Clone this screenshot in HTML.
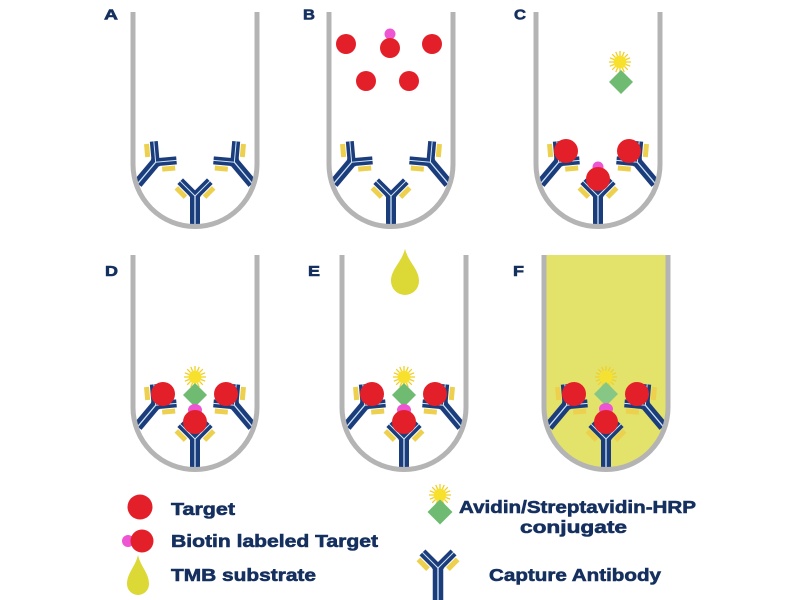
<!DOCTYPE html>
<html><head><meta charset="utf-8"><style>
html,body{margin:0;padding:0;background:#fff;}
svg{display:block;}
text{font-family:"Liberation Sans",Arial,sans-serif;font-weight:bold;fill:#15305f;stroke:#15305f;stroke-width:0.6;}
</style></head><body>
<svg width="800" height="600" viewBox="0 0 800 600" xmlns="http://www.w3.org/2000/svg">
<defs>
  <g id="ab">
    <line x1="-9.5" y1="0.1" x2="-18.7" y2="-9.1" stroke="#ecd04e" stroke-width="5"/>
    <line x1="9.5" y1="0.1" x2="18.7" y2="-9.1" stroke="#ecd04e" stroke-width="5"/>
    <line x1="3" y1="2" x2="-14.8" y2="-15.8" stroke="#1c3d7c" stroke-width="8"/>
    <line x1="-3" y1="2" x2="14.8" y2="-15.8" stroke="#1c3d7c" stroke-width="8"/>
    <line x1="0" y1="-1" x2="0" y2="27" stroke="#1c3d7c" stroke-width="10"/>
    <path d="M-14.8,-15.8 L0,-1 L14.8,-15.8" fill="none" stroke="#cfe6f7" stroke-width="1"/>
    <path d="M0,-1 L0,27" fill="none" stroke="#cfe6f7" stroke-width="1.3"/>
  </g>
  <g id="abc">
    <line x1="-9.5" y1="0.1" x2="-18.7" y2="-9.1" stroke="#ecd04e" stroke-width="5"/>
    <line x1="9.5" y1="0.1" x2="18.7" y2="-9.1" stroke="#ecd04e" stroke-width="5"/>
    <line x1="3" y1="2" x2="-14.8" y2="-15.8" stroke="#1c3d7c" stroke-width="8"/>
    <line x1="-3" y1="2" x2="14.8" y2="-15.8" stroke="#1c3d7c" stroke-width="8"/>
    <line x1="0" y1="-1" x2="0" y2="31" stroke="#1c3d7c" stroke-width="10"/>
    <path d="M-14.8,-15.8 L0,-1 L14.8,-15.8" fill="none" stroke="#cfe6f7" stroke-width="1"/>
    <path d="M0,-1 L0,31" fill="none" stroke="#cfe6f7" stroke-width="1.3"/>
  </g>
  <g id="sun">
    <path d="M6.5,0L11,0M6,2.49L10.16,4.21M4.6,4.6L7.78,7.78M2.49,6L4.21,10.16M0,6.5L0,11M-2.49,6L-4.21,10.16M-4.6,4.6L-7.78,7.78M-6,2.49L-10.16,4.21M-6.5,0L-11,0M-6,-2.49L-10.16,-4.21M-4.6,-4.6L-7.78,-7.78M-2.49,-6L-4.21,-10.16M0,-6.5L0,-11M2.49,-6L4.21,-10.16M4.6,-4.6L7.78,-7.78M6,-2.49L10.16,-4.21" stroke="#f0cf22" stroke-width="1.3"/>
    <circle r="6.5" fill="#f8e12c"/>
  </g>
  <polygon id="dia" points="0,-12 12,0 0,12 -12,0" fill="#70bb72"/>
</defs>

<!-- F yellow fill -->
<path d="M544,255 V407.5 A62 62 0 0 0 668,407.5 V255 Z" fill="#e3e36b"/>

<!-- Tube A -->
<use href="#ab" transform="translate(155,163) rotate(40)"/>
<use href="#ab" transform="translate(235,163) rotate(-40)"/>
<use href="#abc" transform="translate(195,197)"/>

<!-- Tube B -->
<use href="#ab" transform="translate(351,163) rotate(40)"/>
<use href="#ab" transform="translate(431,163) rotate(-40)"/>
<use href="#abc" transform="translate(391,197)"/>
<circle cx="390" cy="34" r="5.5" fill="#ee55d2"/>
<circle cx="346" cy="44" r="10" fill="#e3202a"/>
<circle cx="390" cy="48" r="10" fill="#e3202a"/>
<circle cx="432" cy="44" r="10" fill="#e3202a"/>
<circle cx="366" cy="81" r="10" fill="#e3202a"/>
<circle cx="409" cy="81" r="10" fill="#e3202a"/>

<!-- Tube C -->
<use href="#ab" transform="translate(558,163) rotate(40)"/>
<use href="#ab" transform="translate(638,163) rotate(-40)"/>
<use href="#abc" transform="translate(598,197)"/>
<use href="#sun" transform="translate(620,62)"/>
<use href="#dia" transform="translate(621,82)"/>
<circle cx="566" cy="151" r="12" fill="#e3202a"/>
<circle cx="629" cy="151" r="12" fill="#e3202a"/>
<circle cx="598" cy="167" r="5.5" fill="#ee55d2"/>
<circle cx="598" cy="179" r="12" fill="#e3202a"/>

<!-- Tube D -->
<use href="#ab" transform="translate(155,406) rotate(40)"/>
<use href="#ab" transform="translate(235,406) rotate(-40)"/>
<use href="#abc" transform="translate(195,440)"/>
<use href="#sun" transform="translate(195,377)"/>
<use href="#dia" transform="translate(195,395)"/>
<ellipse cx="195" cy="410" rx="7" ry="6" fill="#ee55d2"/>
<circle cx="195" cy="422" r="12" fill="#e3202a"/>
<circle cx="163" cy="394" r="12" fill="#e3202a"/>
<circle cx="226" cy="394" r="12" fill="#e3202a"/>

<!-- Tube E -->
<path d="M405,249 C408.5,262.5 419,269 419,281 A14,14 0 0 1 391,281 C391,269 401.5,262.5 405,249 Z" fill="#dcd836"/>
<use href="#ab" transform="translate(364,406) rotate(40)"/>
<use href="#ab" transform="translate(444,406) rotate(-40)"/>
<use href="#abc" transform="translate(404,440)"/>
<use href="#sun" transform="translate(404,377)"/>
<use href="#dia" transform="translate(404,395)"/>
<ellipse cx="404" cy="410" rx="7" ry="6" fill="#ee55d2"/>
<circle cx="404" cy="422" r="12" fill="#e3202a"/>
<circle cx="372" cy="394" r="12" fill="#e3202a"/>
<circle cx="435" cy="394" r="12" fill="#e3202a"/>

<!-- Tube F -->
<use href="#ab" transform="translate(566,406) rotate(40)"/>
<use href="#ab" transform="translate(646,406) rotate(-40)"/>
<use href="#abc" transform="translate(606,440)"/>
<g opacity="0.9">
<use href="#sun" transform="translate(606,377)"/>
<polygon points="606,382 618,394 606,406 594,394" fill="#7cc48a"/>
</g>
<ellipse cx="606" cy="409" rx="7" ry="6" fill="#ee55d2"/>
<circle cx="606" cy="422" r="12" fill="#e3202a"/>
<circle cx="574" cy="394" r="12" fill="#e3202a"/>
<circle cx="637" cy="394" r="12" fill="#e3202a"/>

<!-- Tube walls -->
<g fill="none" stroke="#b4b4b4" stroke-width="5">
<path d="M133,12 V164.5 A62 62 0 0 0 257,164.5 V12"/>
<path d="M329,12 V164.5 A62 62 0 0 0 453,164.5 V12"/>
<path d="M536,12 V164.5 A62 62 0 0 0 660,164.5 V12"/>
<path d="M133,255 V407.5 A62 62 0 0 0 257,407.5 V255"/>
<path d="M342,255 V407.5 A62 62 0 0 0 466,407.5 V255"/>
<path d="M544,255 V407.5 A62 62 0 0 0 668,407.5 V255"/>
</g>

<!-- Letters -->
<text x="104" y="19.5" font-size="15" textLength="14" lengthAdjust="spacingAndGlyphs">A</text>
<text x="303" y="19.5" font-size="15" textLength="12" lengthAdjust="spacingAndGlyphs">B</text>
<text x="514" y="19.5" font-size="15" textLength="12" lengthAdjust="spacingAndGlyphs">C</text>
<text x="105" y="276" font-size="15" textLength="13" lengthAdjust="spacingAndGlyphs">D</text>
<text x="308" y="276" font-size="15" textLength="12" lengthAdjust="spacingAndGlyphs">E</text>
<text x="513" y="276" font-size="15" textLength="11" lengthAdjust="spacingAndGlyphs">F</text>

<!-- Legend -->
<circle cx="140" cy="507" r="12.5" fill="#e3202a"/>
<circle cx="128" cy="541" r="6" fill="#ee55d2"/>
<circle cx="142" cy="541" r="11.5" fill="#e3202a"/>
<path d="M138,555 C140.75,567 149,573 149,584 A11,11 0 0 1 127,584 C127,573 135.25,567 138,555 Z" fill="#dcd836"/>
<text x="171" y="515" font-size="17.5" textLength="64" lengthAdjust="spacingAndGlyphs">Target</text>
<text x="171" y="547" font-size="17.5" textLength="207" lengthAdjust="spacingAndGlyphs">Biotin labeled Target</text>
<text x="171" y="581" font-size="17.5" textLength="145" lengthAdjust="spacingAndGlyphs">TMB substrate</text>

<use href="#sun" transform="translate(440,495)"/>
<polygon points="440,499.5 452.5,512 440,524.5 427.5,512" fill="#70bb72"/>
<use href="#abc" transform="translate(438,569) scale(1.05)"/>
<text x="459" y="513" font-size="17.5" textLength="237" lengthAdjust="spacingAndGlyphs">Avidin/Streptavidin-HRP</text>
<text x="520" y="533" font-size="17.5" textLength="107" lengthAdjust="spacingAndGlyphs">conjugate</text>
<text x="489" y="581" font-size="17.5" textLength="172" lengthAdjust="spacingAndGlyphs">Capture Antibody</text>
</svg>
</body></html>
